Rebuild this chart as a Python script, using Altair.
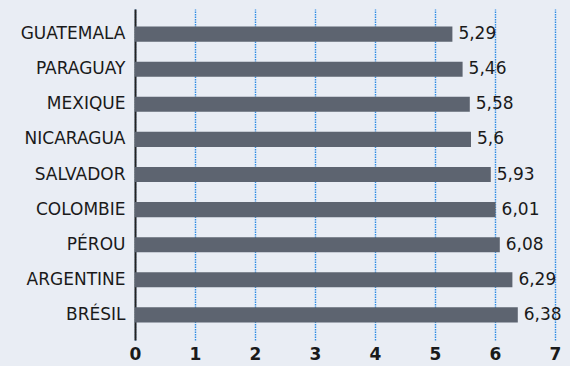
import altair as alt
import pandas as pd

countries = ["GUATEMALA", "PARAGUAY", "MEXIQUE", "NICARAGUA", "SALVADOR",
             "COLOMBIE", "PÉROU", "ARGENTINE", "BRÉSIL"]
values = [5.29, 5.46, 5.58, 5.6, 5.93, 6.01, 6.08, 6.29, 6.38]
x_ticks = [0, 1, 2, 3, 4, 5, 6, 7]

df = pd.DataFrame({"pays": countries, "valeur": values})
df["label"] = [str(v).replace(".", ",") for v in values]

FONT = "DejaVu Sans"
GRID = "#2b8ce6"

y_axis = alt.Axis(domain=True, domainColor="#222222", domainWidth=2,
                  ticks=False, labelPadding=10, labelFontSize=17,
                  labelFont=FONT, labelColor="#1a1a1a", grid=False)
x_axis = alt.Axis(values=x_ticks, format="d", domain=False, ticks=False,
                  labelPadding=6, labelFontSize=17, labelFontWeight="bold",
                  labelFont=FONT, labelColor="#1a1a1a",
                  grid=True, gridColor=GRID, gridDash=[1.5, 1],
                  gridWidth=1.4, gridOpacity=1, labelFlush=False)
x_scale = alt.Scale(domain=[0, 7], nice=False, zero=True)
y_scale = alt.Scale(paddingInner=0.57, paddingOuter=0.5)

bars = alt.Chart(df).mark_bar(color="#5d6470").encode(
    x=alt.X("valeur:Q", title=None, scale=x_scale, axis=x_axis),
    y=alt.Y("pays:N", sort=countries, title=None, scale=y_scale, axis=y_axis))

text = alt.Chart(df).mark_text(align="left", baseline="middle", dx=6,
                               fontSize=17, font=FONT, color="#1a1a1a").encode(
    x=alt.X("valeur:Q", title=None, scale=x_scale, axis=x_axis),
    y=alt.Y("pays:N", sort=countries, title=None, scale=y_scale, axis=y_axis),
    text="label:N")

chart = (bars + text).properties(
    width=420, height=331,
    background="#e9edf4",
    padding={"left": 135, "top": 9, "right": 15, "bottom": 26},
    autosize=alt.AutoSizeParams(type="none"),
).configure_view(stroke=None, fill=None).configure_axis(
    gridColor=GRID, gridDash=[1.5, 1], gridOpacity=1, gridWidth=1.4)

chart.save("out.html", embed_options={"renderer": "svg", "actions": False})
